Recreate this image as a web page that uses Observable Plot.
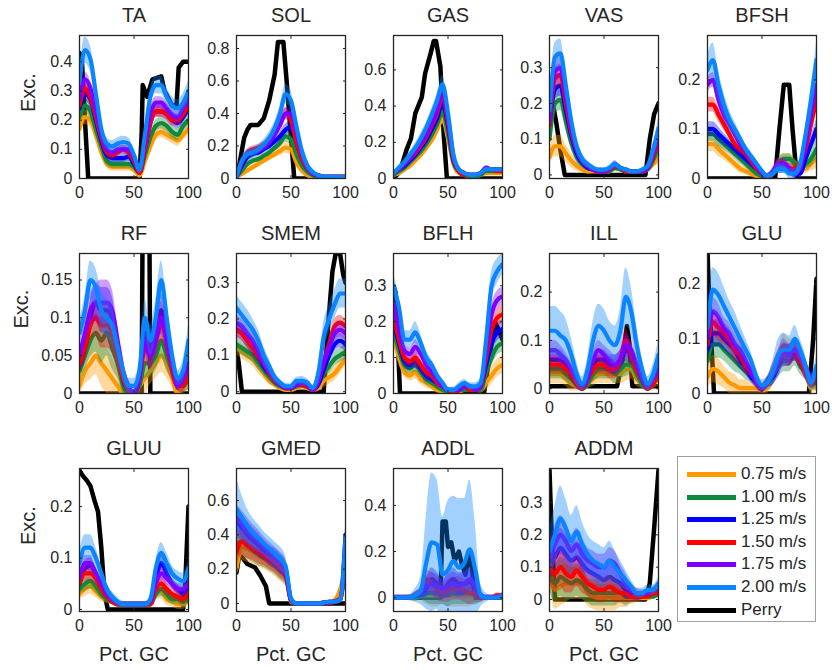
<!DOCTYPE html>
<html><head><meta charset="utf-8">
<script src="https://cdn.jsdelivr.net/npm/d3@7"></script>
<script src="https://cdn.jsdelivr.net/npm/@observablehq/plot@0.6"></script>
<style>
body{margin:0;background:#fff;font-family:"Liberation Sans",Arial,Helvetica,sans-serif;}
#chart{position:relative;width:832px;height:670px;overflow:hidden;background:#fff;}
.panel{position:absolute;}
.panel svg{overflow:visible;}
#legend{position:absolute;left:677px;top:456px;width:139px;height:166px;border:1px solid #a0a0a0;box-sizing:border-box;background:#fff;}
.li{position:absolute;left:9px;height:20px;font-size:17px;color:#262626;white-space:nowrap;}
.li span.sw{position:absolute;left:0;top:8px;width:49px;height:5px;}
.li span.tx{position:absolute;left:54px;top:0;line-height:20px;}
</style></head><body><div id="chart"><div id="legend"></div></div><script>
// ---------- data ----------
const pctGC = [0,5,10,15,20,25,30,35,40,45,50,55,60,65,70,75,80,85,90,95,100];
const speeds = ["0.75 m/s","1.00 m/s","1.25 m/s","1.50 m/s","1.75 m/s","2.00 m/s"];
const refLabel = "Perry";
const muscles = ["TA","SOL","GAS","VAS","BFSH","RF","SMEM","BFLH","ILL","GLU","GLUU","GMED","ADDL","ADDM"];

// means per speed (0.75, 1.00, 1.25, 1.50, 1.75, 2.00)
const taMean = [
 [.17,.21,.20,.15,.09,.05,.04,.04,.04,.04,.03,.01,.06,.11,.15,.16,.15,.14,.13,.15,.17],
 [.21,.25,.23,.17,.11,.06,.05,.05,.05,.05,.04,.02,.08,.14,.18,.19,.18,.16,.15,.18,.20],
 [.24,.29,.27,.20,.13,.08,.07,.07,.07,.075,.05,.02,.10,.19,.23,.23,.22,.20,.19,.21,.24],
 [.25,.31,.28,.21,.14,.09,.08,.09,.10,.09,.06,.02,.10,.19,.23,.23,.22,.20,.20,.22,.25],
 [.27,.34,.31,.23,.15,.10,.09,.10,.10,.10,.07,.03,.12,.22,.26,.26,.24,.22,.21,.24,.27],
 [.33,.44,.41,.29,.17,.12,.11,.12,.125,.12,.08,.03,.15,.28,.32,.32,.28,.25,.24,.26,.30]];
const taBand = [.02,.025,.025,.02,.015,.015,.015,.015,.015,.015,.01,.01,.015,.02,.02,.02,.02,.02,.02,.02,.02];
const taBandFast = [.035,.045,.045,.035,.025,.02,.02,.02,.02,.02,.015,.015,.025,.03,.03,.03,.03,.03,.03,.03,.035];
const taPerryX = [0,2,5,8,55,57,58,62,67,75,78,85,89,91,95,100];
const taPerryY = [.43,.42,.2,0,0,.15,.32,.28,.34,.35,.3,.25,.25,.38,.40,.40];

const solMean = [
 [.01,.03,.05,.07,.09,.11,.13,.15,.17,.19,.18,.10,.05,.02,.01,.01,.01,.01,.01,.01,.01],
 [.01,.05,.09,.11,.12,.14,.16,.19,.22,.26,.24,.15,.08,.04,.02,.01,.01,.01,.01,.01,.01],
 [.01,.08,.13,.15,.16,.18,.20,.23,.26,.30,.32,.22,.12,.06,.03,.02,.01,.01,.01,.01,.01],
 [.01,.10,.16,.18,.19,.21,.24,.28,.33,.40,.36,.22,.12,.06,.03,.02,.01,.01,.01,.01,.01],
 [.01,.10,.15,.16,.17,.19,.22,.27,.33,.40,.40,.28,.15,.07,.03,.02,.01,.01,.01,.01,.01],
 [.01,.11,.15,.16,.18,.21,.25,.31,.40,.52,.48,.32,.17,.08,.04,.02,.01,.01,.01,.01,.01]];
const solBand = [.01,.02,.02,.02,.02,.02,.02,.025,.03,.035,.035,.03,.02,.015,.01,.01,.005,.005,.005,.005,.005];
const solBandFast = [.01,.03,.03,.03,.03,.03,.035,.04,.05,.06,.06,.05,.04,.03,.02,.01,.01,.005,.005,.005,.005];
const solPerryX = [0,3,7,10,13,20,25,30,35,38,43,46,50,53,100];
const solPerryY = [0,.1,.25,.3,.33,.33,.37,.48,.64,.84,.84,.6,.25,0,0];

const gasMean = [
 [.02,.03,.05,.07,.10,.13,.17,.21,.27,.33,.22,.08,.03,.02,.01,.01,.02,.03,.03,.03,.03],
 [.02,.04,.06,.09,.12,.15,.19,.24,.30,.37,.25,.09,.04,.02,.01,.01,.02,.04,.04,.04,.04],
 [.03,.05,.07,.10,.13,.17,.21,.27,.33,.42,.29,.10,.04,.02,.02,.02,.03,.05,.05,.05,.05],
 [.03,.05,.08,.11,.14,.18,.23,.29,.36,.46,.31,.11,.04,.02,.02,.02,.03,.05,.05,.04,.04],
 [.03,.05,.08,.11,.15,.19,.24,.30,.38,.48,.33,.12,.05,.03,.02,.02,.03,.06,.05,.05,.05],
 [.03,.06,.09,.13,.17,.22,.28,.35,.43,.52,.36,.13,.05,.03,.02,.02,.03,.05,.05,.05,.05]];
const gasBand = [.01,.01,.015,.015,.02,.02,.02,.025,.03,.03,.03,.02,.01,.01,.005,.005,.01,.01,.01,.01,.01];
const gasBandFast = [.01,.015,.02,.02,.025,.03,.03,.035,.04,.05,.04,.03,.015,.01,.01,.01,.01,.015,.01,.01,.01];
const gasPerryX = [0,3,6,9,12,16,20,26,29,34,37,39,43,46,49,100];
const gasPerryY = [0,.02,.04,.1,.16,.22,.36,.45,.58,.69,.76,.76,.62,.25,0,0];

const vasMean = [
 [.05,.08,.08,.06,.04,.025,.015,.01,.01,.01,.01,.01,.02,.015,.01,.01,.01,.01,.015,.03,.05],
 [.10,.20,.21,.15,.09,.05,.03,.02,.015,.01,.01,.01,.02,.015,.01,.01,.01,.01,.015,.04,.08],
 [.14,.24,.25,.18,.11,.06,.035,.02,.015,.01,.01,.015,.025,.02,.01,.01,.01,.01,.02,.05,.10],
 [.14,.27,.28,.20,.12,.07,.04,.025,.015,.01,.01,.015,.025,.02,.01,.01,.01,.01,.02,.05,.10],
 [.15,.29,.30,.22,.13,.07,.04,.025,.015,.01,.01,.015,.03,.02,.015,.01,.01,.01,.02,.06,.11],
 [.18,.33,.34,.25,.15,.08,.045,.03,.02,.015,.015,.02,.03,.02,.015,.01,.01,.015,.025,.07,.13]];
const vasBand = [.02,.03,.03,.025,.02,.015,.01,.008,.005,.005,.005,.005,.01,.005,.005,.005,.005,.005,.005,.01,.02];
const vasBandFast = [.03,.04,.04,.035,.025,.02,.015,.01,.008,.005,.005,.008,.01,.008,.005,.005,.005,.005,.008,.015,.03];
const vasPerryX = [0,3,6,10,14,88,92,96,100];
const vasPerryY = [.22,.2,.15,.07,0,0,.1,.17,.2];

const bfshMean = [
 [.07,.07,.06,.05,.04,.03,.02,.015,.01,.005,.003,.002,.01,.03,.04,.04,.03,.02,.02,.03,.04],
 [.09,.09,.08,.07,.06,.05,.04,.03,.02,.01,.005,.003,.01,.03,.04,.04,.03,.02,.03,.04,.06],
 [.10,.10,.09,.08,.07,.06,.05,.04,.03,.02,.01,.005,.01,.02,.02,.02,.01,.01,.04,.07,.10],
 [.15,.15,.13,.11,.09,.07,.06,.05,.035,.02,.01,.005,.01,.03,.03,.02,.02,.03,.06,.11,.16],
 [.19,.20,.16,.13,.11,.09,.07,.055,.04,.025,.01,.005,.015,.03,.03,.02,.01,.02,.07,.13,.19],
 [.22,.24,.19,.15,.12,.10,.08,.06,.045,.03,.015,.005,.01,.02,.02,.01,.01,.03,.09,.16,.24]];
const bfshBand = [.015,.015,.015,.012,.01,.01,.01,.008,.008,.006,.005,.005,.008,.01,.01,.01,.01,.01,.01,.015,.02];
const bfshBandFast = [.03,.035,.03,.025,.02,.015,.012,.01,.01,.008,.006,.005,.008,.01,.01,.01,.01,.01,.015,.025,.035];
const bfshPerryX = [0,62,66,70,75,78,82,100];
const bfshPerryY = [0,0,.1,.19,.19,.1,0,0];

const rfMean = [
 [.01,.03,.04,.05,.04,.03,.02,.01,0,0,0,.01,.02,.03,.04,.05,.04,.02,0,.01,.02],
 [.03,.05,.07,.08,.07,.08,.06,.04,.01,0,0,.01,.04,.04,.05,.07,.05,.03,.01,.01,.02],
 [.04,.06,.10,.12,.11,.11,.10,.06,.02,.005,0,.02,.08,.06,.08,.11,.08,.04,.01,.02,.04],
 [.04,.06,.09,.10,.09,.09,.08,.05,.02,.005,0,.02,.06,.05,.07,.09,.07,.03,.01,.01,.03],
 [.05,.08,.11,.12,.12,.12,.11,.07,.03,.01,0,.02,.07,.05,.07,.10,.07,.04,.01,.02,.04],
 [.08,.11,.15,.14,.11,.10,.09,.06,.03,.01,.01,.03,.10,.07,.10,.15,.10,.05,.02,.03,.07]];
const rfBand = [.012,.018,.022,.025,.03,.03,.028,.02,.01,.005,.005,.01,.02,.018,.02,.022,.02,.012,.006,.01,.015];
const rfBandFast = [.015,.02,.025,.025,.025,.025,.025,.02,.015,.01,.01,.015,.025,.02,.025,.025,.025,.015,.01,.015,.02];
const rfPerryX = [0,57,58,64,65,100];
const rfPerryY = [0,0,.25,.25,0,0];

const smemMean = [
 [.12,.11,.10,.09,.07,.05,.03,.02,.01,.005,.005,.01,.015,.01,.005,.01,.03,.04,.05,.07,.09],
 [.13,.12,.11,.10,.08,.06,.04,.025,.015,.01,.01,.015,.02,.015,.005,.02,.05,.07,.09,.10,.11],
 [.17,.16,.14,.12,.10,.07,.05,.03,.02,.01,.01,.02,.02,.015,.005,.02,.06,.10,.13,.14,.13],
 [.17,.16,.14,.12,.10,.08,.05,.03,.02,.01,.01,.02,.02,.015,.005,.03,.08,.13,.18,.19,.18],
 [.19,.18,.16,.14,.11,.08,.055,.035,.02,.01,.01,.02,.025,.02,.005,.03,.08,.12,.16,.17,.16],
 [.23,.21,.19,.17,.14,.10,.07,.04,.025,.015,.015,.03,.03,.025,.01,.05,.15,.20,.24,.27,.27]];
const smemBand = [.02,.02,.02,.02,.02,.015,.01,.01,.008,.005,.005,.008,.01,.008,.005,.01,.02,.02,.02,.02,.02];
const smemBandFast = [.035,.035,.035,.03,.03,.025,.02,.015,.01,.008,.008,.01,.012,.01,.008,.02,.04,.04,.04,.04,.04];
const smemPerryX = [0,2,5,80,84,88,91,95,98,100];
const smemPerryY = [.12,.08,0,0,.18,.33,.38,.38,.32,.3];

const bflhMean = [
 [.16,.10,.06,.05,.06,.04,.03,.02,.01,.005,0,0,.005,.01,.01,.01,.01,.03,.05,.07,.08],
 [.18,.12,.08,.07,.08,.06,.04,.03,.02,.01,.005,0,.01,.01,.01,.01,.01,.06,.10,.13,.14],
 [.20,.14,.09,.08,.09,.07,.05,.04,.03,.02,.01,0,.01,.02,.01,.01,.02,.08,.14,.17,.18],
 [.22,.15,.10,.09,.10,.08,.06,.05,.03,.02,.01,0,.01,.02,.01,.01,.02,.10,.18,.21,.22],
 [.25,.18,.12,.11,.13,.11,.08,.06,.04,.02,.01,.01,.01,.02,.02,.01,.02,.12,.22,.26,.27],
 [.30,.24,.15,.15,.17,.14,.10,.08,.05,.03,.01,.01,.02,.03,.02,.02,.03,.15,.30,.34,.36]];
const bflhBand = [.02,.02,.015,.015,.02,.015,.015,.01,.01,.008,.005,.005,.008,.008,.008,.008,.01,.02,.025,.025,.025];
const bflhBandFast = [.035,.03,.025,.025,.03,.025,.02,.015,.012,.01,.008,.008,.01,.01,.01,.01,.015,.04,.04,.035,.03];
const bflhPerryX = [0,2,6,83,88,93,96,100];
const bflhPerryY = [.3,.28,0,0,.1,.2,.18,.15];

const illMean = [
 [.03,.03,.03,.02,.01,.005,0,.01,.02,.03,.03,.03,.03,.03,.04,.04,.02,.01,0,.01,.02],
 [.04,.04,.04,.03,.02,.01,0,.01,.03,.04,.04,.04,.03,.04,.05,.05,.03,.01,0,.01,.03],
 [.06,.06,.06,.05,.03,.01,0,.02,.05,.06,.06,.05,.05,.06,.08,.07,.05,.02,0,.02,.04],
 [.05,.05,.05,.04,.03,.01,0,.02,.04,.05,.05,.04,.04,.06,.10,.07,.04,.02,0,.01,.03],
 [.08,.08,.07,.06,.04,.02,.005,.02,.06,.08,.07,.06,.05,.06,.09,.08,.05,.02,.005,.02,.04],
 [.12,.12,.11,.10,.07,.03,.01,.04,.10,.13,.12,.10,.09,.12,.19,.16,.09,.04,.01,.03,.07]];
const illBand = [.02,.02,.02,.015,.015,.01,.005,.01,.015,.02,.02,.02,.02,.02,.025,.02,.015,.01,.005,.01,.015];
const illBandFast = [.05,.05,.05,.045,.035,.025,.015,.025,.04,.045,.045,.04,.04,.045,.06,.05,.04,.025,.015,.02,.03];
const illPerryX = [0,62,67,71,73,76,100];
const illPerryY = [.005,.005,.06,.13,.1,.005,.005];

const gluMean = [
 [.03,.045,.04,.03,.02,.015,.01,.01,.01,.01,.005,.01,.03,.06,.09,.08,.08,.06,.04,.01,.02],
 [.06,.09,.09,.08,.07,.06,.05,.04,.03,.02,.01,.02,.03,.05,.06,.06,.07,.05,.04,.02,.02],
 [.08,.11,.11,.10,.09,.08,.06,.05,.03,.02,.01,.02,.03,.05,.07,.07,.08,.06,.04,.02,.03],
 [.09,.13,.12,.11,.10,.08,.07,.05,.04,.02,.01,.02,.04,.06,.07,.07,.08,.06,.04,.02,.03],
 [.10,.15,.14,.12,.11,.09,.08,.06,.04,.02,.01,.02,.04,.06,.08,.07,.08,.07,.05,.03,.04],
 [.12,.19,.18,.16,.14,.12,.10,.08,.06,.03,.015,.02,.04,.07,.08,.08,.10,.08,.05,.02,.05]];
const gluBand = [.02,.025,.025,.02,.02,.02,.015,.015,.01,.01,.008,.01,.015,.02,.02,.02,.02,.015,.015,.01,.015];
const gluBandFast = [.03,.04,.04,.035,.03,.03,.025,.02,.015,.012,.01,.012,.02,.03,.03,.025,.025,.02,.02,.015,.02];
const gluPerryX = [0,2,6,93,97,100];
const gluPerryY = [.26,.15,0,0,.1,.21];

const gluuMean = [
 [.03,.04,.045,.035,.025,.02,.015,.01,.01,.01,.01,.01,.01,.01,.03,.035,.02,.015,.01,.01,.02],
 [.04,.05,.055,.045,.03,.02,.015,.01,.01,.01,.01,.01,.01,.01,.03,.04,.03,.02,.02,.015,.02],
 [.05,.08,.085,.07,.045,.03,.02,.012,.01,.01,.01,.01,.01,.015,.06,.09,.07,.05,.04,.03,.05],
 [.05,.07,.07,.06,.04,.025,.015,.01,.01,.01,.01,.01,.01,.01,.04,.05,.04,.03,.025,.02,.03],
 [.06,.09,.09,.07,.05,.03,.02,.012,.01,.01,.01,.01,.01,.015,.05,.07,.06,.05,.04,.04,.05],
 [.09,.12,.12,.10,.07,.04,.025,.015,.01,.01,.01,.01,.01,.02,.08,.11,.09,.07,.06,.055,.08]];
const gluuBand = [.01,.015,.015,.012,.01,.008,.005,.005,.005,.005,.005,.005,.005,.005,.01,.015,.012,.01,.01,.01,.01];
const gluuBandFast = [.02,.025,.025,.02,.015,.012,.01,.008,.006,.005,.005,.005,.005,.008,.015,.02,.02,.015,.015,.015,.015];
const gluuPerryX = [0,3,7,10,14,17,20,23,26,95,97,100];
const gluuPerryY = [.27,.26,.25,.24,.21,.19,.12,.03,0,0,.05,.2];

const gmedMean = [
 [.20,.33,.32,.30,.28,.26,.24,.22,.19,.16,.01,0,0,0,0,0,.005,.01,.02,.08,.20],
 [.35,.36,.34,.31,.29,.27,.25,.23,.20,.17,.02,0,0,0,0,0,.005,.005,.01,.02,.25],
 [.48,.44,.40,.37,.34,.31,.28,.26,.23,.19,.02,0,0,0,0,0,.005,.01,.01,.02,.40],
 [.30,.36,.34,.32,.30,.28,.26,.24,.21,.18,.02,0,0,0,0,0,.005,.005,.01,.02,.30],
 [.50,.46,.42,.39,.36,.33,.30,.27,.24,.20,.02,0,0,0,0,0,.005,.005,.01,.02,.32],
 [.55,.50,.45,.41,.38,.35,.32,.29,.26,.22,.03,0,0,0,0,0,.005,.01,.01,.02,.38]];
const gmedBand = [.08,.08,.08,.07,.07,.06,.06,.06,.06,.06,.02,.005,.005,.005,.005,.005,.005,.005,.01,.02,.04];
const gmedBandFast = [.18,.13,.1,.09,.08,.07,.07,.07,.07,.06,.03,.01,.01,.01,.01,.01,.01,.01,.01,.02,.06];
const gmedPerryX = [0,2,5,10,17,22,27,30,100];
const gmedPerryY = [.18,.26,.27,.23,.21,.16,.1,0,0];

const addlMean = [
 [0,0,0,0,0,.01,.01,.01,.01,.01,.01,.01,.01,.01,.01,.01,0,0,0,0,0],
 [0,0,0,0,0,.01,.02,.02,.02,.01,.01,.02,.02,.02,.02,.01,0,0,0,0,0],
 [0,0,0,0,.01,.02,.04,.08,.06,.03,.06,.08,.06,.06,.07,.04,.01,0,0,0,.01],
 [0,0,0,0,.01,.03,.08,.06,.04,.02,.03,.04,.04,.03,.02,.02,0,0,0,.01,.01],
 [0,0,0,0,.01,.02,.05,.06,.05,.04,.05,.06,.05,.06,.08,.05,.01,0,0,0,.01],
 [0,0,0,0,.01,.03,.15,.24,.23,.10,.12,.16,.13,.15,.21,.12,.01,0,0,0,.01]];
const addlBand = [.01,.01,.01,.01,.015,.02,.04,.05,.05,.04,.05,.05,.05,.05,.05,.04,.02,.01,.01,.01,.01];
const addlBandFast = [.01,.01,.01,.015,.03,.06,.2,.3,.28,.25,.3,.28,.3,.28,.3,.2,.05,.02,.01,.01,.01];
const addlPerryX = [0,43,45,48,50,53,56,60,63,66,70,72,75,100];
const addlPerryY = [0,0,.33,.33,.22,.24,.16,.2,.14,.1,.2,.12,0,0];

const addmMean = [
 [.10,.03,.04,.05,.05,.05,.05,.02,.01,.005,.005,.005,.005,.005,.005,.005,.005,.005,.005,.01,.02],
 [.08,.05,.07,.06,.05,.06,.05,.03,.02,.02,.02,.02,.02,.02,.01,.01,.01,.01,.01,.01,.02],
 [.12,.13,.16,.14,.12,.13,.11,.09,.08,.07,.06,.07,.06,.05,.03,.02,.01,.01,.02,.02,.03],
 [.10,.08,.10,.08,.07,.09,.07,.05,.04,.03,.03,.04,.03,.02,.02,.01,.01,.01,.01,.02,.02],
 [.13,.17,.20,.18,.15,.17,.14,.12,.11,.10,.10,.12,.11,.08,.05,.03,.02,.02,.02,.03,.04],
 [.15,.20,.25,.22,.18,.21,.17,.14,.12,.11,.10,.12,.10,.08,.06,.04,.02,.02,.03,.03,.05]];
const addmBand = [.05,.06,.06,.06,.05,.05,.05,.04,.04,.04,.04,.04,.04,.03,.03,.02,.015,.01,.01,.01,.015];
const addmBandFast = [.07,.09,.1,.09,.08,.08,.07,.06,.06,.06,.06,.06,.05,.04,.03,.02,.015,.015,.015,.015,.02];
const addmPerryX = [0,2,5,88,92,96,100];
const addmPerryY = [.4,.2,0,0,.05,.22,.4];

// axis limits and ticks per muscle
const yLimits = [[0,.49],[0,.88],[0,.79],[-.01,.39],[0,.29],[0,.185],[-.005,.38],[0,.39],[-.01,.28],[0,.256],[-.004,.274],[-.047,.787],[-.06,.56],[-.037,.405]];
const yTicks = [[0,.1,.2,.3,.4],[0,.2,.4,.6,.8],[0,.2,.4,.6],[0,.1,.2,.3],[0,.1,.2],[0,.05,.1,.15],[0,.1,.2,.3],[0,.1,.2,.3],[0,.1,.2],[0,.1,.2],[0,.1,.2],[0,.2,.4,.6],[0,.2,.4],[0,.1,.2,.3]];
const xTicks = [0,50,100];

// ---------- styles / layout ----------
const colors = ["#ff9900","#0f8a3c","#0000ff","#ff0000","#8000ff","#0a84ff"];
const textColor = "#262626";
const colLeft = [79,236,393,549,707];
const rowTop = [35,253,468];
const rowH = [143,140,143];
const boxW = 109;
const exDx = [-51,-58,-51];

const panels = [
 [taMean,taBand,taBandFast,taPerryX,taPerryY],
 [solMean,solBand,solBandFast,solPerryX,solPerryY],
 [gasMean,gasBand,gasBandFast,gasPerryX,gasPerryY],
 [vasMean,vasBand,vasBandFast,vasPerryX,vasPerryY],
 [bfshMean,bfshBand,bfshBandFast,bfshPerryX,bfshPerryY],
 [rfMean,rfBand,rfBandFast,rfPerryX,rfPerryY],
 [smemMean,smemBand,smemBandFast,smemPerryX,smemPerryY],
 [bflhMean,bflhBand,bflhBandFast,bflhPerryX,bflhPerryY],
 [illMean,illBand,illBandFast,illPerryX,illPerryY],
 [gluMean,gluBand,gluBandFast,gluPerryX,gluPerryY],
 [gluuMean,gluuBand,gluuBandFast,gluuPerryX,gluuPerryY],
 [gmedMean,gmedBand,gmedBandFast,gmedPerryX,gmedPerryY],
 [addlMean,addlBand,addlBandFast,addlPerryX,addlPerryY],
 [addmMean,addmBand,addmBandFast,addmPerryX,addmPerryY]];

const chart = document.getElementById("chart");
const ML = 80, MR = 14, MT = 40, MB = 62;

panels.forEach(([mean, band, bandFast, px, py], k) => {
  const row = Math.floor(k / 5), col = k % 5;
  const h = rowH[row];
  const marks = [];
  const perry = px.map((x, i) => ({x, y: py[i]}));
  marks.push(Plot.line(perry, {x: "x", y: "y", stroke: "#000", strokeWidth: 4.5, clip: true}));
  speeds.forEach((s, i) => {
    const b = i === 5 ? bandFast : band;
    const d = mean[i].map((v, j) => ({x: pctGC[j], y: v, lo: v - b[j], hi: v + b[j]}));
    marks.push(Plot.areaY(d, {x: "x", y1: "lo", y2: "hi", fill: colors[i], fillOpacity: 0.38, curve: "monotone-x", clip: true}));
    marks.push(Plot.lineY(d, {x: "x", y: "y", stroke: colors[i], strokeWidth: 4.2, curve: "monotone-x", clip: true}));
  });
  marks.push(Plot.axisY(yTicks[k], {anchor: "left", tickSize: -3, tickPadding: 10, tickFormat: d => String(d), fontSize: 16, fill: textColor, stroke: textColor, label: null}));
  marks.push(Plot.axisY(yTicks[k], {anchor: "right", tickSize: -3, tickFormat: () => "", stroke: textColor, label: null}));
  marks.push(Plot.axisX(xTicks, {anchor: "bottom", tickSize: -3, tickPadding: 11, tickFormat: d => String(d), fontSize: 16, fill: textColor, stroke: textColor, label: null}));
  marks.push(Plot.axisX(xTicks, {anchor: "top", tickSize: -3, tickFormat: () => "", stroke: textColor, label: null}));
  marks.push(Plot.frame({stroke: textColor, strokeWidth: 1.3}));
  marks.push(Plot.text([muscles[k]], {frameAnchor: "top", dy: -20, fontSize: 20, lineAnchor: "middle", fill: textColor}));
  if (col === 0) marks.push(Plot.text(["Exc."], {frameAnchor: "left", dx: exDx[row], dy: 5, rotate: -90, fontSize: 20, lineAnchor: "middle", fill: textColor}));
  if (row === 2) marks.push(Plot.text(["Pct. GC"], {frameAnchor: "bottom", dy: 43, fontSize: 20, lineAnchor: "middle", fill: textColor}));
  const svg = Plot.plot({
    width: ML + boxW + MR, height: MT + h + MB,
    marginLeft: ML, marginRight: MR, marginTop: MT, marginBottom: MB,
    x: {domain: [0, 100]}, y: {domain: yLimits[k]},
    style: {background: "transparent", overflow: "visible", fontFamily: "'Liberation Sans', Arial, sans-serif", color: textColor},
    marks
  });
  const div = document.createElement("div");
  div.className = "panel";
  div.style.left = (colLeft[col] - ML) + "px";
  div.style.top = (rowTop[row] - MT) + "px";
  div.appendChild(svg);
  chart.appendChild(div);
});

// legend
const legend = document.getElementById("legend");
chart.appendChild(legend);
[...speeds, refLabel].forEach((lab, i) => {
  const it = document.createElement("div");
  it.className = "li";
  it.style.top = (7 + i * 22.6) + "px";
  const sw = document.createElement("span");
  sw.className = "sw";
  sw.style.background = i < 6 ? colors[i] : "#000";
  const tx = document.createElement("span");
  tx.className = "tx";
  tx.textContent = lab;
  it.appendChild(sw); it.appendChild(tx);
  legend.appendChild(it);
});
</script></body></html>
